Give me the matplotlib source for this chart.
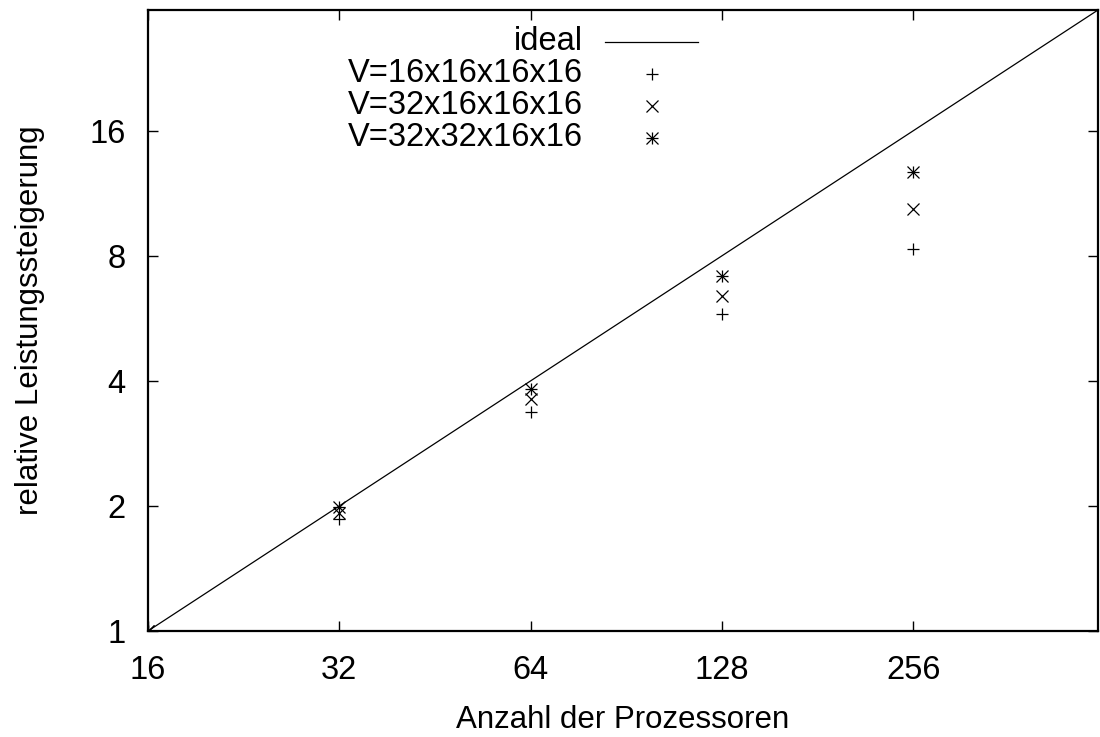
import matplotlib
matplotlib.use("Agg")
import matplotlib.pyplot as plt
from matplotlib.ticker import FixedLocator, NullLocator

plt.rcParams['font.family'] = ['Liberation Sans', 'DejaVu Sans']

# number of processors and relative speedup for each lattice size
procs = [16, 32, 64, 128, 256]
speedup_16x16 = [1.0, 1.86, 3.36, 5.80, 8.33]
speedup_32x16 = [1.0, 1.92, 3.61, 6.41, 10.38]
speedup_32x32 = [1.0, 1.99, 3.82, 7.17, 12.70]

labels = ["V=16x16x16x16", "V=32x16x16x16", "V=32x32x16x16"]
x_ticks = [16, 32, 64, 128, 256]
y_ticks = [1, 2, 4, 8, 16]
x_range = (16, 500)
y_range = (1, 500 / 16)

# ideal speedup: linear in the number of processors
ideal_x = list(x_range)
ideal_y = [v / 16 for v in ideal_x]

FS = 23.5
FS_LABEL = 22.5
# gnuplot-style point types: plus, cross, and star = plus over cross
point_types = [['+'], ['x'], ['+', 'x']]
series = [speedup_16x16, speedup_32x16, speedup_32x32]
msize = {'+': 8.0, 'x': 8.0}


def draw_points(ax, xs, ys, kinds, **kw):
    for m in kinds:
        ax.plot(xs, ys, linestyle='none', marker=m, color='black',
                markersize=msize[m], markeredgewidth=0.9, **kw)


fig = plt.figure(figsize=(11, 7.37), dpi=100)
ax = fig.add_axes([148 / 1100, 1 - 631 / 737, 950 / 1100, 621 / 737])

ax.plot(ideal_x, ideal_y, color='black', lw=0.9)
for ys, kinds in zip(series, point_types):
    draw_points(ax, procs, ys, kinds)

ax.set_xscale('log', base=2)
ax.set_yscale('log', base=2)
ax.set_xlim(*x_range)
ax.set_ylim(*y_range)
ax.xaxis.set_major_locator(FixedLocator(x_ticks))
ax.yaxis.set_major_locator(FixedLocator(y_ticks))
ax.xaxis.set_minor_locator(NullLocator())
ax.yaxis.set_minor_locator(NullLocator())
ax.set_xticklabels([str(v) for v in x_ticks])
ax.set_yticklabels([str(v) for v in y_ticks])
ax.tick_params(which='major', direction='in', length=7, width=1,
               top=True, right=True, labelsize=FS)
ax.tick_params(axis='x', pad=17)
ax.tick_params(axis='y', pad=16)
for sp in ax.spines.values():
    sp.set_linewidth(1.6)

ax.set_xlabel('Anzahl der Prozessoren', fontsize=FS_LABEL, labelpad=14)
ax.set_ylabel('relative Leistungssteigerung', fontsize=FS_LABEL, labelpad=32)

# key in the upper left: right-aligned text, sample to its right
key_text_x = (583 - 148) / 950
key_sample_x0 = (605 - 148) / 950
key_sample_x1 = (698 - 148) / 950
key_rows = [(631 - y) / 621 for y in (42, 74, 106, 138)]
key_mid = (key_sample_x0 + key_sample_x1) / 2

ax.text(key_text_x, key_rows[0], 'ideal', transform=ax.transAxes,
        ha='right', va='center', fontsize=FS)
ax.plot([key_sample_x0, key_sample_x1], [key_rows[0]] * 2,
        transform=ax.transAxes, color='black', lw=0.9, clip_on=False)
for lab, kinds, row in zip(labels, point_types, key_rows[1:]):
    ax.text(key_text_x, row, lab, transform=ax.transAxes,
            ha='right', va='center', fontsize=FS)
    draw_points(ax, [key_mid], [row], kinds, transform=ax.transAxes,
                clip_on=False)

fig.savefig('out.png', dpi=100)
